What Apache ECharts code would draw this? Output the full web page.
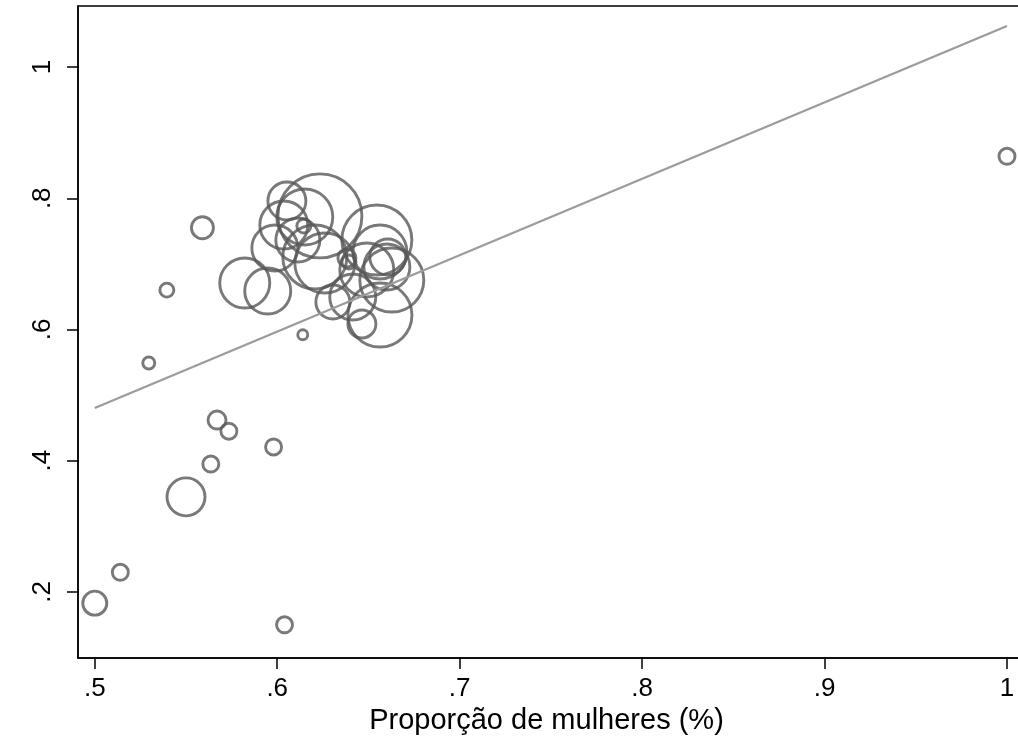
<!DOCTYPE html>
<html>
<head>
<meta charset="utf-8">
<script src="https://cdn.jsdelivr.net/npm/echarts@6/dist/echarts.min.js"></script>
<style>html,body{margin:0;padding:0;background:#fff;}#c{width:1018px;height:740px;}</style>
</head>
<body>
<div id="c"></div>
<script>
// Proportion of women (x), outcome (y), and bubble weight
const propMulheres = [0.500,0.514,0.550,0.5636,0.567,0.5735,0.598,0.604,0.5296,0.5395,0.559,0.614,1.000,
  0.5822,0.5948,0.6053,0.6036,0.5987,0.6151,0.6234,0.6146,0.6113,0.6206,0.6261,0.6305,0.6546,0.6563,0.6606,0.6628,0.6563,0.6464,0.6414,0.6491,0.6601,0.6382,0.6393];
const valores = [0.183,0.230,0.345,0.395,0.462,0.445,0.421,0.150,0.549,0.660,0.755,0.592,0.864,
  0.6709,0.6587,0.7958,0.7592,0.7242,0.7714,0.7731,0.7577,0.7364,0.7105,0.7013,0.6419,0.7364,0.7181,0.7105,0.6754,0.6220,0.6084,0.6495,0.6907,0.6952,0.7090,0.7029];
const pesos = [144,64,361,64,81,64,64,64,36,49,121,25,64,
  625,529,361,576,529,784,1764,49,484,1024,900,289,1225,729,324,1024,1024,196,529,729,529,81,49];
const xTicks = [0.5,0.6,0.7,0.8,0.9,1];
const yTicks = [0.2,0.4,0.6,0.8,1];
const fitX = [0.5, 1.0];
const fitY = [0.4804, 1.0625];

const fmt = v => { const s = String(Math.round(v*10)/10); return s.replace(/^0/, ''); };
const pts = propMulheres.map((x,i)=>[x, valores[i], pesos[i]]);
const chart = echarts.init(document.getElementById('c'));
chart.setOption({
  animation:false,
  grid:{left:78, top:6, width:955, bottom:82, show:true, borderColor:'#000', borderWidth:1.5,
    containLabel:false, outerBoundsMode:'none'},
  xAxis:{type:'value', min:0.4908, max:0.5+(1033-95)/1824,
    name:'Proporção de mulheres (%)', nameLocation:'middle', nameGap:47,
    nameTextStyle:{fontFamily:'Liberation Sans', fontSize:29, color:'#000', padding:[0,18,0,0]},
    axisLine:{show:true, lineStyle:{color:'#000', width:1.5}},
    axisTick:{show:true, length:11, lineStyle:{color:'#000', width:1.5}, customValues:xTicks},
    axisLabel:{fontFamily:'Liberation Sans', fontSize:26, color:'#000', margin:18, customValues:xTicks, formatter:fmt},
    splitLine:{show:false}},
  yAxis:{type:'value', min:0.0994, max:1.093,
    axisLine:{show:true, lineStyle:{color:'#000', width:1.5}},
    axisTick:{show:true, length:11, lineStyle:{color:'#000', width:1.5}, customValues:yTicks},
    axisLabel:{fontFamily:'Liberation Sans', fontSize:26, color:'#000', margin:22, rotate:90, customValues:yTicks, formatter:fmt},
    splitLine:{show:false}},
  series:[
    {type:'scatter', data:pts, symbol:'circle',
      symbolSize: d => 2*Math.sqrt(d[2]),
      itemStyle:{color:'rgba(0,0,0,0)', borderColor:'#585858', borderWidth:2.9},
      z:2},
    {type:'line', data:fitX.map((x,i)=>[x,fitY[i]]), symbol:'none',
      lineStyle:{color:'#9c9c9c', width:2.4}, z:3}
  ]
});
</script>
</body>
</html>
